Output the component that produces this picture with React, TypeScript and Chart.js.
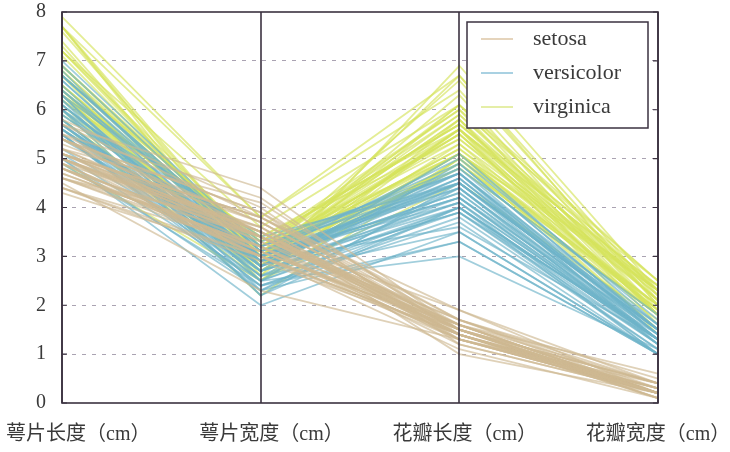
import { useEffect, useRef } from "react";
import { Chart, registerables } from "chart.js";

Chart.register(...registerables);

// Axes of the parallel-coordinates plot
const dimensions = ["萼片长度（cm）", "萼片宽度（cm）", "花瓣长度（cm）", "花瓣宽度（cm）"];
const species = ["setosa", "versicolor", "virginica"];
const yTicks = [0, 1, 2, 3, 4, 5, 6, 7, 8];

// Iris measurements, one array per species and feature
const setosaSepalLength = [5.1, 4.9, 4.7, 4.6, 5.0, 5.4, 4.6, 5.0, 4.4, 4.9, 5.4, 4.8, 4.8, 4.3, 5.8, 5.7, 5.4, 5.1, 5.7, 5.1, 5.4, 5.1, 4.6, 5.1, 4.8, 5.0, 5.0, 5.2, 5.2, 4.7, 4.8, 5.4, 5.2, 5.5, 4.9, 5.0, 5.5, 4.9, 4.4, 5.1, 5.0, 4.5, 4.4, 5.0, 5.1, 4.8, 5.1, 4.6, 5.3, 5.0];
const setosaSepalWidth = [3.5, 3.0, 3.2, 3.1, 3.6, 3.9, 3.4, 3.4, 2.9, 3.1, 3.7, 3.4, 3.0, 3.0, 4.0, 4.4, 3.9, 3.5, 3.8, 3.8, 3.4, 3.7, 3.6, 3.3, 3.4, 3.0, 3.4, 3.5, 3.4, 3.2, 3.1, 3.4, 4.1, 4.2, 3.1, 3.2, 3.5, 3.6, 3.0, 3.4, 3.5, 2.3, 3.2, 3.5, 3.8, 3.0, 3.8, 3.2, 3.7, 3.3];
const setosaPetalLength = [1.4, 1.4, 1.3, 1.5, 1.4, 1.7, 1.4, 1.5, 1.4, 1.5, 1.5, 1.6, 1.4, 1.1, 1.2, 1.5, 1.3, 1.4, 1.7, 1.5, 1.7, 1.5, 1.0, 1.7, 1.9, 1.6, 1.6, 1.5, 1.4, 1.6, 1.6, 1.5, 1.5, 1.4, 1.5, 1.2, 1.3, 1.4, 1.3, 1.5, 1.3, 1.3, 1.3, 1.6, 1.9, 1.4, 1.6, 1.4, 1.5, 1.4];
const setosaPetalWidth = [0.2, 0.2, 0.2, 0.2, 0.2, 0.4, 0.3, 0.2, 0.2, 0.1, 0.2, 0.2, 0.1, 0.1, 0.2, 0.4, 0.4, 0.3, 0.3, 0.3, 0.2, 0.4, 0.2, 0.5, 0.2, 0.2, 0.4, 0.2, 0.2, 0.2, 0.2, 0.4, 0.1, 0.2, 0.2, 0.2, 0.2, 0.1, 0.2, 0.2, 0.3, 0.3, 0.2, 0.6, 0.4, 0.3, 0.2, 0.2, 0.2, 0.2];

const versicolorSepalLength = [7.0, 6.4, 6.9, 5.5, 6.5, 5.7, 6.3, 4.9, 6.6, 5.2, 5.0, 5.9, 6.0, 6.1, 5.6, 6.7, 5.6, 5.8, 6.2, 5.6, 5.9, 6.1, 6.3, 6.1, 6.4, 6.6, 6.8, 6.7, 6.0, 5.7, 5.5, 5.5, 5.8, 6.0, 5.4, 6.0, 6.7, 6.3, 5.6, 5.5, 5.5, 6.1, 5.8, 5.0, 5.6, 5.7, 5.7, 6.2, 5.1, 5.7];
const versicolorSepalWidth = [3.2, 3.2, 3.1, 2.3, 2.8, 2.8, 3.3, 2.4, 2.9, 2.7, 2.0, 3.0, 2.2, 2.9, 2.9, 3.1, 3.0, 2.7, 2.2, 2.5, 3.2, 2.8, 2.5, 2.8, 2.9, 3.0, 2.8, 3.0, 2.9, 2.6, 2.4, 2.4, 2.7, 2.7, 3.0, 3.4, 3.1, 2.3, 3.0, 2.5, 2.6, 3.0, 2.6, 2.3, 2.7, 3.0, 2.9, 2.9, 2.5, 2.8];
const versicolorPetalLength = [4.7, 4.5, 4.9, 4.0, 4.6, 4.5, 4.7, 3.3, 4.6, 3.9, 3.5, 4.2, 4.0, 4.7, 3.6, 4.4, 4.5, 4.1, 4.5, 3.9, 4.8, 4.0, 4.9, 4.7, 4.3, 4.4, 4.8, 5.0, 4.5, 3.5, 3.8, 3.7, 3.9, 5.1, 4.5, 4.5, 4.7, 4.4, 4.1, 4.0, 4.4, 4.6, 4.0, 3.3, 4.2, 4.2, 4.2, 4.3, 3.0, 4.1];
const versicolorPetalWidth = [1.4, 1.5, 1.5, 1.3, 1.5, 1.3, 1.6, 1.0, 1.3, 1.4, 1.0, 1.5, 1.0, 1.4, 1.3, 1.4, 1.5, 1.0, 1.5, 1.1, 1.8, 1.3, 1.5, 1.2, 1.3, 1.4, 1.4, 1.7, 1.5, 1.0, 1.1, 1.0, 1.2, 1.6, 1.5, 1.6, 1.5, 1.3, 1.3, 1.3, 1.2, 1.4, 1.2, 1.0, 1.3, 1.2, 1.3, 1.3, 1.1, 1.3];

const virginicaSepalLength = [6.3, 5.8, 7.1, 6.3, 6.5, 7.6, 4.9, 7.3, 6.7, 7.2, 6.5, 6.4, 6.8, 5.7, 5.8, 6.4, 6.5, 7.7, 7.7, 6.0, 6.9, 5.6, 7.7, 6.3, 6.7, 7.2, 6.2, 6.1, 6.4, 7.2, 7.4, 7.9, 6.4, 6.3, 6.1, 7.7, 6.3, 6.4, 6.0, 6.9, 6.7, 6.9, 5.8, 6.8, 6.7, 6.7, 6.3, 6.5, 6.2, 5.9];
const virginicaSepalWidth = [3.3, 2.7, 3.0, 2.9, 3.0, 3.0, 2.5, 2.9, 2.5, 3.6, 3.2, 2.7, 3.0, 2.5, 2.8, 3.2, 3.0, 3.8, 2.6, 2.2, 3.2, 2.8, 2.8, 2.7, 3.3, 3.2, 2.8, 3.0, 2.8, 3.0, 2.8, 3.8, 2.8, 2.8, 2.6, 3.0, 3.4, 3.1, 3.0, 3.1, 3.1, 3.1, 2.7, 3.2, 3.3, 3.0, 2.5, 3.0, 3.4, 3.0];
const virginicaPetalLength = [6.0, 5.1, 5.9, 5.6, 5.8, 6.6, 4.5, 6.3, 5.8, 6.1, 5.1, 5.3, 5.5, 5.0, 5.1, 5.3, 5.5, 6.7, 6.9, 5.0, 5.7, 4.9, 6.7, 4.9, 5.7, 6.0, 4.8, 4.9, 5.6, 5.8, 6.1, 6.4, 5.6, 5.1, 5.6, 6.1, 5.6, 5.5, 4.8, 5.4, 5.6, 5.1, 5.1, 5.9, 5.7, 5.2, 5.0, 5.2, 5.4, 5.1];
const virginicaPetalWidth = [2.5, 1.9, 2.1, 1.8, 2.2, 2.1, 1.7, 1.8, 1.8, 2.5, 2.0, 1.9, 2.1, 2.0, 2.4, 2.3, 1.8, 2.2, 2.3, 1.5, 2.3, 2.0, 2.0, 1.8, 2.1, 1.8, 1.8, 1.8, 2.1, 1.6, 1.9, 2.0, 2.2, 1.5, 1.4, 2.3, 2.4, 1.8, 1.8, 2.1, 2.4, 2.3, 1.9, 2.3, 2.5, 2.3, 1.9, 2.0, 2.3, 1.8];

const speciesColors = ["rgba(206, 184, 146, 0.65)", "rgba(110, 180, 202, 0.65)", "rgba(214, 228, 92, 0.65)"];
const legendColors = ["#dcc6a6", "#8cc2d8", "#dde88a"];

const featureTable = [
  [setosaSepalLength, setosaSepalWidth, setosaPetalLength, setosaPetalWidth],
  [versicolorSepalLength, versicolorSepalWidth, versicolorPetalLength, versicolorPetalWidth],
  [virginicaSepalLength, virginicaSepalWidth, virginicaPetalLength, virginicaPetalWidth],
];

const FRAME = "#3b3240";
const TEXT = "#3a3a3a";
const SERIF = '"Liberation Serif", "Times New Roman", "Noto Sans CJK SC", serif';

const decorPlugin = {
  id: "parallelDecor",
  afterDraw(chart: any) {
    const { ctx, chartArea, scales } = chart;
    const x = scales.x;
    const y = scales.y;
    const { left, right, top, bottom } = chartArea;
    ctx.save();

    // small inward ticks on left and right borders
    ctx.strokeStyle = FRAME;
    ctx.lineWidth = 1.2;
    yTicks.forEach((v) => {
      const py = y.getPixelForValue(v);
      ctx.beginPath();
      ctx.moveTo(left, py);
      ctx.lineTo(left + 5, py);
      ctx.moveTo(right, py);
      ctx.lineTo(right - 5, py);
      ctx.stroke();
    });

    // frame and the vertical axes
    ctx.lineWidth = 1.6;
    ctx.strokeRect(left, top, right - left, bottom - top);
    dimensions.forEach((_, i) => {
      const px = Math.round(x.getPixelForTick(i));
      ctx.beginPath();
      ctx.moveTo(px, top);
      ctx.lineTo(px, bottom);
      ctx.stroke();
    });

    // axis names under the plot
    ctx.font = `20px ${SERIF}`;
    ctx.fillStyle = TEXT;
    ctx.textAlign = "center";
    ctx.textBaseline = "middle";
    const W = chart.width;
    const widths = dimensions.map((d) => ctx.measureText(d).width);
    const n = dimensions.length;
    const firstC = Math.max(x.getPixelForTick(0), widths[0] / 2 + 6);
    const lastC = Math.min(x.getPixelForTick(n - 1), W - widths[n - 1] / 2 + 6);
    dimensions.forEach((d, i) => {
      const cx = firstC + ((lastC - firstC) * i) / (n - 1);
      ctx.fillText(d, cx, bottom + 32);
    });

    // legend box
    const bw = 181;
    const bh = 106;
    const bx = right - 10 - bw;
    const by = top + 10;
    ctx.fillStyle = "#ffffff";
    ctx.fillRect(bx, by, bw, bh);
    ctx.strokeStyle = FRAME;
    ctx.lineWidth = 1.5;
    ctx.strokeRect(bx, by, bw, bh);
    ctx.font = `22px ${SERIF}`;
    ctx.textAlign = "left";
    species.forEach((s, i) => {
      const ry = by + 17 + i * 34;
      ctx.strokeStyle = legendColors[i];
      ctx.lineWidth = 1.5;
      ctx.beginPath();
      ctx.moveTo(bx + 14, ry);
      ctx.lineTo(bx + 46, ry);
      ctx.stroke();
      ctx.fillStyle = TEXT;
      ctx.fillText(s, bx + 66, ry);
    });

    ctx.restore();
  },
};

export default function App() {
  const canvasRef = useRef<HTMLCanvasElement | null>(null);

  useEffect(() => {
    if (!canvasRef.current) return;
    const datasets: any[] = [];
    featureTable.forEach((features, si) => {
      const count = features[0].length;
      for (let i = 0; i < count; i++) {
        datasets.push({
          label: species[si],
          data: features.map((arr) => arr[i]),
          borderColor: speciesColors[si],
          borderWidth: 1.8,
          pointRadius: 0,
          tension: 0,
          fill: false,
        });
      }
    });

    const chart = new Chart(canvasRef.current, {
      type: "line",
      data: { labels: dimensions, datasets },
      options: {
        animation: false,
        responsive: false,
        events: [],
        layout: { padding: { top: 12, right: 72, bottom: 49, left: 0 } },
        plugins: {
          legend: { display: false },
          tooltip: { enabled: false },
        },
        scales: {
          x: {
            type: "category",
            offset: false,
            ticks: { display: false },
            grid: { display: false, drawTicks: false },
            border: { display: false },
          },
          y: {
            min: 0,
            max: 8,
            afterFit: (scale: any) => {
              scale.width = 62;
              scale.paddingTop = 0;
              scale.paddingBottom = 0;
            },
            ticks: {
              stepSize: 1,
              padding: 16,
              color: TEXT,
              font: { size: 20, family: SERIF },
            },
            grid: {
              drawTicks: false,
              lineWidth: 1,
              color: (c: any) =>
                c.tick && (c.tick.value === 0 || c.tick.value === 8) ? "rgba(0,0,0,0)" : "#aaa3b2",
            },
            border: { display: false, dash: [4, 6] },
          },
        },
      },
      plugins: [decorPlugin],
    });

    return () => chart.destroy();
  }, []);

  return (
    <div style={{ position: "absolute", left: 0, top: 0, width: 730, height: 452, background: "#fff" }}>
      <canvas ref={canvasRef} width={730} height={452} />
    </div>
  );
}
